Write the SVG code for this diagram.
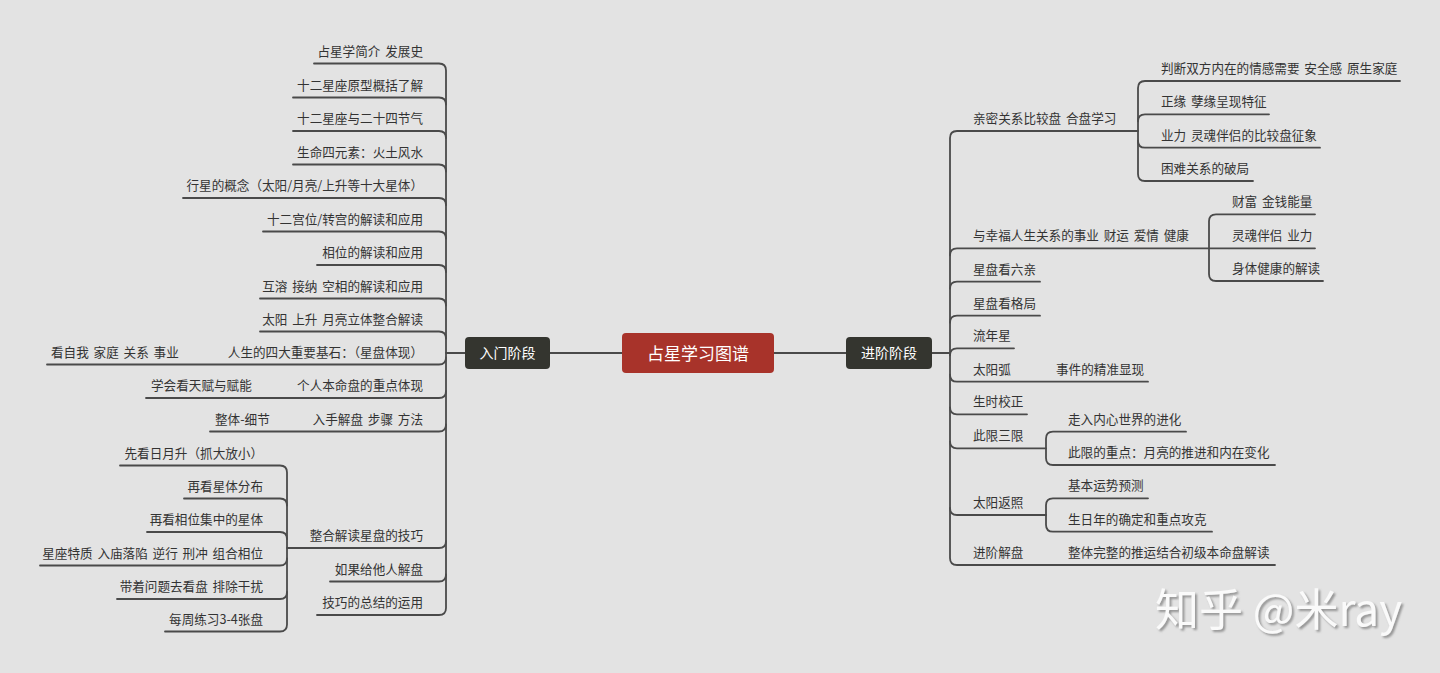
<svg xmlns="http://www.w3.org/2000/svg" width="1440" height="673" viewBox="0 0 1440 673">
<defs>
<style>
.bg{fill:#e3e3e3}
.ln{fill:none;stroke:#4a4a4a;stroke-width:1.8;stroke-linecap:round}
.t{font-family:"Noto Sans CJK SC","Noto Sans",sans-serif;font-size:12.6px;fill:#333;word-spacing:2px}
.e{text-anchor:end}
.hub{font-family:"Noto Sans CJK SC","Noto Sans",sans-serif;fill:#fff;text-anchor:middle}
.wm{font-family:"Noto Sans CJK SC","Noto Sans",sans-serif;font-size:44px;fill:#fafafa}
</style>
<filter id="sh" x="-10%" y="-20%" width="130%" height="150%">
<feDropShadow dx="2" dy="2" stdDeviation="1" flood-color="#8a8a8a" flood-opacity="0.9"/>
</filter>
</defs>
<rect class="bg" x="0" y="0" width="1440" height="673"/>

<g id="connectors">
<path class="ln" d="M550 353H622M774 353H846M446 353H465M932 353H950"/>
<path class="ln" d="M314 63.5H439Q446 63.5 446 70.5V608Q446 615 439 615H317"/>
<path class="ln" d="M293 97.5H439Q446 97.5 446 104.5M293 131H439Q446 131 446 138M293 164.5H439Q446 164.5 446 171.5M183 198H439Q446 198 446 205M263 231.5H439Q446 231.5 446 238.5M317 265H439Q446 265 446 272M260 298.5H439Q446 298.5 446 305.5M260 331.5H439Q446 331.5 446 338.5"/>
<path class="ln" d="M47 364.5H439Q446 364.5 446 357.5M146 398H439Q446 398 446 391M210 431.5H439Q446 431.5 446 424.5M287 548H439Q446 548 446 541M330 581.5H439Q446 581.5 446 574.5"/>
<path class="ln" d="M120 465.5H280Q287 465.5 287 472.5V624.5Q287 631.5 280 631.5H165"/>
<path class="ln" d="M184 498.5H280Q287 498.5 287 505.5M147 532H280Q287 532 287 539M40 565.5H280Q287 565.5 287 558.5M117 599H280Q287 599 287 592"/>
<path class="ln" d="M1138 131H957Q950 131 950 138V558Q950 565 957 565H1275"/>
<path class="ln" d="M1315 248.3H957Q950 248.3 950 255.3M1040 281.7H957Q950 281.7 950 288.7M1040 315.7H957Q950 315.7 950 322.7M1014 348.3H957Q950 348.3 950 355.3"/>
<path class="ln" d="M1148 381.7H957Q950 381.7 950 374.7M1027 414.3H957Q950 414.3 950 407.3M1046 448.3H957Q950 448.3 950 441.3M1046 515H957Q950 515 950 508"/>
<path class="ln" d="M1400 81H1145Q1138 81 1138 88V174Q1138 181 1145 181H1253"/>
<path class="ln" d="M1269 114.3H1145Q1138 114.3 1138 121.3M1320 147.7H1145Q1138 147.7 1138 140.7"/>
<path class="ln" d="M1315 214.3H1216Q1209 214.3 1209 221.3V274Q1209 281 1216 281H1323"/>
<path class="ln" d="M1186 431.7H1053Q1046 431.7 1046 438.7V458Q1046 465 1053 465H1275"/>
<path class="ln" d="M1148 498.3H1053Q1046 498.3 1046 505.3V524.7Q1046 531.7 1053 531.7H1212"/>
</g>

<g id="root">
<rect x="622" y="333" width="152" height="40" rx="4" fill="#a8332a"/>
<text class="hub" x="698" y="359.5" font-size="17">占星学习图谱</text>
</g>
<g id="n-left">
<rect x="465" y="337" width="85" height="32" rx="4" fill="#34352f"/>
<text class="hub" x="507.5" y="358.3" font-size="14">入门阶段</text>
</g>
<g id="n-right">
<rect x="846" y="337" width="86" height="32" rx="4" fill="#34352f"/>
<text class="hub" x="889" y="358.3" font-size="14">进阶阶段</text>
</g>

<g id="left-items">
<g id="l1"><text class="t e" x="423" y="55.5">占星学简介 发展史</text></g>
<g id="l2"><text class="t e" x="423" y="89.5">十二星座原型概括了解</text></g>
<g id="l3"><text class="t e" x="423" y="123">十二星座与二十四节气</text></g>
<g id="l4"><text class="t e" x="423" y="156.5">生命四元素：火土风水</text></g>
<g id="l5"><text class="t e" x="423" y="190">行星的概念（太阳/月亮/上升等十大星体）</text></g>
<g id="l6"><text class="t e" x="423" y="223.5">十二宫位/转宫的解读和应用</text></g>
<g id="l7"><text class="t e" x="423" y="257">相位的解读和应用</text></g>
<g id="l8"><text class="t e" x="423" y="290.5">互溶 接纳 空相的解读和应用</text></g>
<g id="l9"><text class="t e" x="423" y="323.5">太阳 上升 月亮立体整合解读</text></g>
<g id="l10"><text class="t e" x="423" y="356.5">人生的四大重要基石：（星盘体现）</text></g>
<g id="l10a"><text class="t" x="51" y="356.5">看自我 家庭 关系 事业</text></g>
<g id="l11"><text class="t e" x="423" y="390">个人本命盘的重点体现</text></g>
<g id="l11a"><text class="t" x="151" y="390">学会看天赋与赋能</text></g>
<g id="l12"><text class="t e" x="423" y="423.5">入手解盘 步骤 方法</text></g>
<g id="l12a"><text class="t" x="215" y="423.5">整体-细节</text></g>
<g id="l13"><text class="t e" x="423" y="540">整合解读星盘的技巧</text></g>
<g id="l13a"><text class="t e" x="263" y="457.5">先看日月升（抓大放小）</text></g>
<g id="l13b"><text class="t e" x="263" y="490.5">再看星体分布</text></g>
<g id="l13c"><text class="t e" x="263" y="524">再看相位集中的星体</text></g>
<g id="l13d"><text class="t e" x="263" y="557.5">星座特质 入庙落陷  逆行 刑冲 组合相位</text></g>
<g id="l13e"><text class="t e" x="263" y="591">带着问题去看盘 排除干扰</text></g>
<g id="l13f"><text class="t e" x="263" y="623.5">每周练习3-4张盘</text></g>
<g id="l14"><text class="t e" x="423" y="573.5">如果给他人解盘</text></g>
<g id="l15"><text class="t e" x="423" y="607">技巧的总结的运用</text></g>
</g>

<g id="right-items">
<g id="r1"><text class="t" x="973" y="123">亲密关系比较盘 合盘学习</text></g>
<g id="r1a"><text class="t" x="1161" y="73">判断双方内在的情感需要 安全感 原生家庭</text></g>
<g id="r1b"><text class="t" x="1161" y="106.3">正缘 孽缘呈现特征</text></g>
<g id="r1c"><text class="t" x="1161" y="139.7">业力 灵魂伴侣的比较盘征象</text></g>
<g id="r1d"><text class="t" x="1161" y="173">困难关系的破局</text></g>
<g id="r2"><text class="t" x="973" y="240.3">与幸福人生关系的事业 财运 爱情 健康</text></g>
<g id="r2a"><text class="t" x="1232" y="206.3">财富 金钱能量</text></g>
<g id="r2b"><text class="t" x="1232" y="240.3">灵魂伴侣 业力</text></g>
<g id="r2c"><text class="t" x="1232" y="273">身体健康的解读</text></g>
<g id="r3"><text class="t" x="973" y="273.7">星盘看六亲</text></g>
<g id="r4"><text class="t" x="973" y="307.7">星盘看格局</text></g>
<g id="r5"><text class="t" x="973" y="340.3">流年星</text></g>
<g id="r6"><text class="t" x="973" y="373.7">太阳弧</text></g>
<g id="r6a"><text class="t" x="1056" y="373.7">事件的精准显现</text></g>
<g id="r7"><text class="t" x="973" y="406.3">生时校正</text></g>
<g id="r8"><text class="t" x="973" y="440.3">此限三限</text></g>
<g id="r8a"><text class="t" x="1068" y="423.7">走入内心世界的进化</text></g>
<g id="r8b"><text class="t" x="1068" y="457">此限的重点：月亮的推进和内在变化</text></g>
<g id="r9"><text class="t" x="973" y="507">太阳返照</text></g>
<g id="r9a"><text class="t" x="1068" y="490.3">基本运势预测</text></g>
<g id="r9b"><text class="t" x="1068" y="523.7">生日年的确定和重点攻克</text></g>
<g id="r10"><text class="t" x="973" y="557">进阶解盘</text></g>
<g id="r10a"><text class="t" x="1068" y="557">整体完整的推运结合初级本命盘解读</text></g>
</g>

<text class="wm" x="1155" y="626" filter="url(#sh)">知乎 @米ray</text>
</svg>
